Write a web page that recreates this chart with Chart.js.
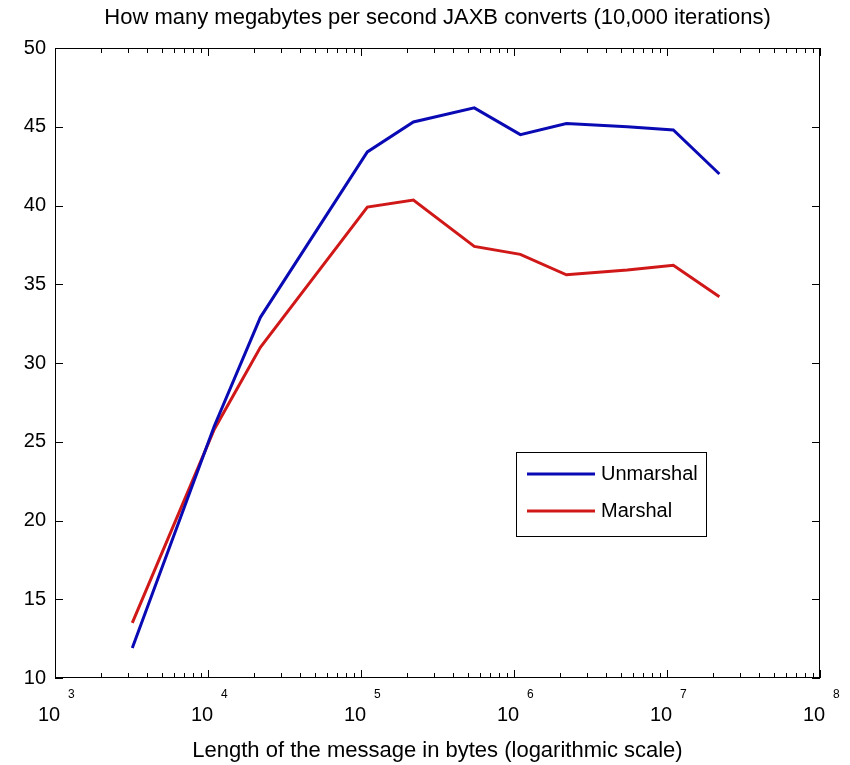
<!DOCTYPE html>
<html>
<head>
<meta charset="utf-8">
<script src="https://cdn.jsdelivr.net/npm/chart.js@4/dist/chart.umd.min.js"></script>
<style>
  html, body { margin: 0; padding: 0; background: #fff; }
  #wrap { width: 850px; height: 765px; }
</style>
</head>
<body>
<div id="wrap"><canvas id="c" width="850" height="765"></canvas></div>
<script>
// ---- data ----
const messageBytes   = [3200, 11000, 22000, 110000, 220000, 550000, 1100000, 2200000, 5500000, 11000000, 22000000];
const unmarshalMBps  = [11.9, 26.0, 32.9, 43.4, 45.3, 46.2, 44.5, 45.2, 45.0, 44.8, 42.0];
const marshalMBps    = [13.5, 25.8, 31.0, 39.9, 40.35, 37.4, 36.9, 35.6, 35.9, 36.2, 34.2];
const seriesNames    = ['Unmarshal', 'Marshal'];
const xTickExponents = [3, 4, 5, 6, 7, 8];
const yTickValues    = [10, 15, 20, 25, 30, 35, 40, 45, 50];
const titleText  = 'How many megabytes per second JAXB converts (10,000 iterations)';
const xTitleText = 'Length of the message in bytes (logarithmic scale)';

const BLUE = '#0a0ab4';
const RED  = '#d01818';
const FONT = '"Liberation Sans", Arial, sans-serif';

const toPoints = vals => messageBytes.map((b, i) => ({ x: b, y: vals[i] }));

const matlabAxes = {
  id: 'matlabAxes',
  afterDraw(chart) {
    const { ctx, chartArea: a, scales: { x, y } } = chart;
    ctx.save();
    ctx.strokeStyle = '#000';
    ctx.lineWidth = 1;
    // box
    ctx.strokeRect(Math.round(a.left) + 0.5, Math.round(a.top) + 0.5,
                   Math.round(a.right - a.left) - 1, Math.round(a.bottom - a.top) - 1);
    ctx.beginPath();
    // x ticks (major + minor), inward on bottom and top
    const minE = xTickExponents[0], maxE = xTickExponents[xTickExponents.length - 1];
    for (let e = minE; e <= maxE; e++) {
      for (let m = 1; m <= 9; m++) {
        const v = m * Math.pow(10, e);
        if (v > x.max) break;
        const px = Math.round(x.getPixelForValue(v)) + 0.5;
        const len = m === 1 ? 8 : 5;
        ctx.moveTo(px, a.bottom); ctx.lineTo(px, a.bottom - len);
        ctx.moveTo(px, a.top);    ctx.lineTo(px, a.top + len);
      }
    }
    // y ticks inward on left and right
    yTickValues.forEach(v => {
      const py = Math.round(y.getPixelForValue(v)) + 0.5;
      ctx.moveTo(a.left, py);  ctx.lineTo(a.left + 8, py);
      ctx.moveTo(a.right, py); ctx.lineTo(a.right - 8, py);
    });
    ctx.stroke();

    // x tick labels: 10 with superscript exponent
    ctx.fillStyle = '#000';
    ctx.textBaseline = 'middle';
    xTickExponents.forEach(e => {
      const px = x.getPixelForValue(Math.pow(10, e));
      ctx.font = '20px ' + FONT;
      ctx.textAlign = 'center';
      ctx.fillText('10', px - 6, 715);
      ctx.font = '12px ' + FONT;
      ctx.textAlign = 'left';
      ctx.fillText(String(e), px + 13, 695);
    });

    // titles
    ctx.textAlign = 'center';
    ctx.font = '22px ' + FONT;
    ctx.fillText(titleText, (a.left + a.right) / 2, 18);
    ctx.fillText(xTitleText, (a.left + a.right) / 2, 751);

    // legend box
    const lx = 516, ly = 452, lw = 190, lh = 84;
    ctx.fillStyle = '#fff';
    ctx.fillRect(lx, ly, lw, lh);
    ctx.strokeStyle = '#000';
    ctx.lineWidth = 1;
    ctx.strokeRect(lx + 0.5, ly + 0.5, lw, lh);
    const rows = [474, 511];
    chart.data.datasets.forEach((ds, i) => {
      ctx.strokeStyle = ds.borderColor;
      ctx.lineWidth = 3;
      ctx.beginPath();
      ctx.moveTo(527, rows[i]); ctx.lineTo(595, rows[i]);
      ctx.stroke();
      ctx.fillStyle = '#000';
      ctx.textAlign = 'left';
      ctx.font = '20px ' + FONT;
      ctx.fillText(ds.label, 601, rows[i]);
    });
    ctx.restore();
  }
};

new Chart(document.getElementById('c'), {
  type: 'line',
  data: {
    datasets: [
      { label: seriesNames[0], data: toPoints(unmarshalMBps), borderColor: BLUE, borderWidth: 3, pointRadius: 0, tension: 0, fill: false },
      { label: seriesNames[1], data: toPoints(marshalMBps),   borderColor: RED,  borderWidth: 3, pointRadius: 0, tension: 0, fill: false }
    ]
  },
  options: {
    responsive: false,
    animation: false,
    devicePixelRatio: 1,
    layout: { padding: { top: 48, right: 30, left: 0, bottom: 0 } },
    plugins: { legend: { display: false }, title: { display: false }, tooltip: { enabled: false } },
    scales: {
      x: {
        type: 'logarithmic',
        min: Math.pow(10, xTickExponents[0]),
        max: Math.pow(10, xTickExponents[xTickExponents.length - 1]),
        grid: { display: false, drawTicks: false },
        border: { display: false },
        ticks: { display: false },
        afterFit: s => { s.height = 87; }
      },
      y: {
        type: 'linear',
        min: yTickValues[0],
        max: yTickValues[yTickValues.length - 1],
        grid: { display: false, drawTicks: false },
        border: { display: false },
        ticks: { stepSize: 5, color: '#000', padding: 9, font: { size: 20, family: FONT } },
        afterFit: s => { s.width = 55; }
      }
    }
  },
  plugins: [matlabAxes]
});
</script>
</body>
</html>
